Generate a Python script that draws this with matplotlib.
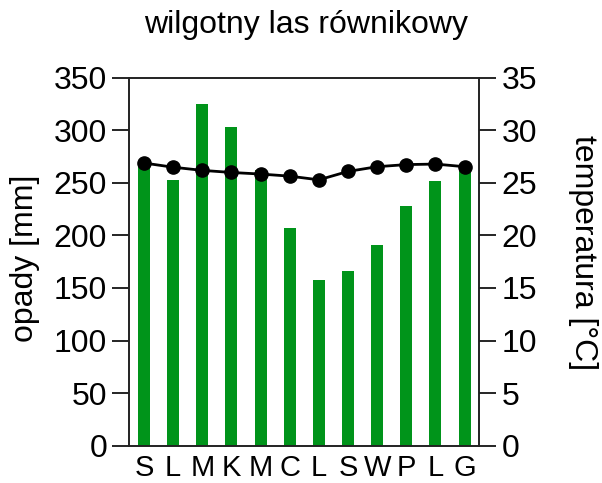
import numpy as np
import matplotlib
matplotlib.use("Agg")
import matplotlib.pyplot as plt

plt.rcParams['font.family'] = ['Liberation Sans', 'DejaVu Sans']

# data
months = ['S', 'L', 'M', 'K', 'M', 'C', 'L', 'S', 'W', 'P', 'L', 'G']
opady = [268, 253, 325, 303, 262, 207, 158, 166, 191, 228, 252, 266]
temperatura = [26.9, 26.5, 26.2, 26.0, 25.85, 25.65, 25.3, 26.1, 26.55, 26.75, 26.8, 26.55]

x = np.arange(len(months))

fig = plt.figure(figsize=(6.02, 4.83), dpi=100)
ax = fig.add_axes([0.215, 0.0776, 0.581, 0.761])
ax.bar(x, opady, width=0.41, color='#00941a', zorder=2)
ax.set_xlim(-0.5, 11.5)
ax.set_ylim(0, 350)
ax.set_yticks(np.arange(0, 351, 50))
ax.set_xticks(x)
ax.set_xticklabels(months, fontsize=21)
ax.tick_params(axis='x', length=0, pad=6)
ax.tick_params(axis='y', labelsize=23, length=12.5, width=1.2, pad=3.5)
ax.set_ylabel('opady [mm]', fontsize=23)
ax.yaxis.label.set_va('center')
ax.yaxis.set_label_coords(-0.299, 0.51)

ax2 = ax.twinx()
ax2.plot(x, temperatura, color='black', lw=2, marker='o', ms=9.5, zorder=3)
ax2.set_ylim(0, 35)
ax2.set_yticks(np.arange(0, 36, 5))
ax2.tick_params(axis='y', labelsize=23, length=12.5, width=1.2, pad=3.5)
ax2.set_ylabel('temperatura [°C]', fontsize=23, rotation=270)
ax2.yaxis.label.set_va('center')
ax2.yaxis.set_label_coords(1.297, 0.524)

for a in (ax, ax2):
    for s in a.spines.values():
        s.set_linewidth(1.2)
        s.set_color('#222222')

fig.text(0.508, 0.948, 'wilgotny las równikowy', fontsize=23, ha='center', va='center')

fig.savefig('out.png', dpi=100)
